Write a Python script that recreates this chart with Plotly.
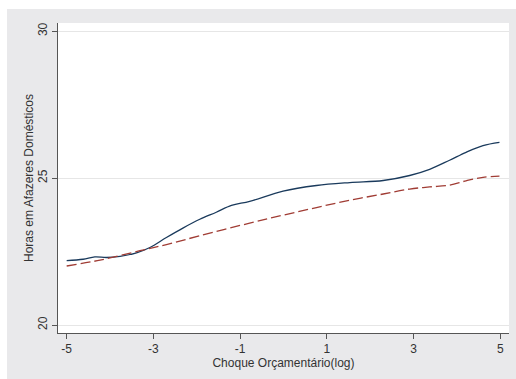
import plotly.graph_objects as go

# Data
x_solid = [-5.0, -4.62, -4.35, -4.08, -3.77, -3.39, -3.08, -2.70, -2.31, -1.93, -1.55, -1.20,
           -0.78, -0.01, 0.76, 1.53, 2.30, 2.91, 3.37, 3.83, 4.21, 4.60, 4.98]
y_solid = [22.19, 22.24, 22.32, 22.30, 22.34, 22.46, 22.64, 22.98, 23.31, 23.60, 23.84, 24.07,
           24.21, 24.56, 24.75, 24.85, 24.92, 25.09, 25.30, 25.61, 25.88, 26.11, 26.22]

x_dash = [-5.0, -4.23, -3.31, -2.70, -1.93, -0.78, -0.01, 0.76, 1.53, 2.30, 2.91, 3.37,
          3.83, 4.21, 4.60, 4.98]
y_dash = [22.01, 22.21, 22.53, 22.74, 23.04, 23.47, 23.74, 24.00, 24.25, 24.46, 24.63, 24.70,
          24.76, 24.91, 25.03, 25.07]

x_ticks = [-5, -3, -1, 1, 3, 5]
y_ticks = [20, 25, 30]

GRAY = "#e9e9eb"
W, H = 516, 379
L, R, T, B = 58, 7, 23, 46
pw, ph = W - L - R, H - T - B

fig = go.Figure()
fig.add_trace(go.Scatter(x=x_solid, y=y_solid, mode="lines", line=dict(color="#1a3a5c", width=1.3, shape="spline"), showlegend=False))
fig.add_trace(go.Scatter(x=x_dash, y=y_dash, mode="lines", line=dict(color="#a03c34", width=1.3, dash="10px,4px", shape="spline"), showlegend=False))

# white strips above and left of the gray region
def px(xp):
    return (xp - L) / pw
def py(yp):
    return (H - B - yp) / ph

fig.add_shape(type="rect", xref="paper", yref="paper", x0=px(-5), x1=px(W + 5), y0=py(9), y1=py(-5),
              fillcolor="white", line=dict(width=0), layer="above")
fig.add_shape(type="rect", xref="paper", yref="paper", x0=px(-5), x1=px(7), y0=py(H + 5), y1=py(-5),
              fillcolor="white", line=dict(width=0), layer="above")

fig.update_layout(
    width=W, height=H,
    margin=dict(l=L, r=R, t=T, b=B),
    paper_bgcolor=GRAY, plot_bgcolor="white",
    font=dict(family="Arial, Liberation Sans", size=12, color="#333333"),
    xaxis=dict(range=[-5.2, 5.2], tickvals=x_ticks, ticktext=[str(v) for v in x_ticks],
               showgrid=False, zeroline=False, showline=True, linecolor="#555555", linewidth=1,
               ticks="outside", ticklen=5, tickcolor="#555555",
               title=dict(text="Choque Orçamentário(log)", standoff=1, font=dict(size=12))),
    yaxis=dict(range=[19.73, 30.28], tickvals=y_ticks, tickangle=-90,
               showgrid=True, gridcolor="#e6e6e6", gridwidth=1, zeroline=False,
               showline=True, linecolor="#555555", linewidth=1,
               ticks="outside", ticklen=5, tickcolor="#555555",
               title=dict(text="Horas em Afazeres Domésticos", standoff=0, font=dict(size=12))),
)

fig.write_html("out.html")
